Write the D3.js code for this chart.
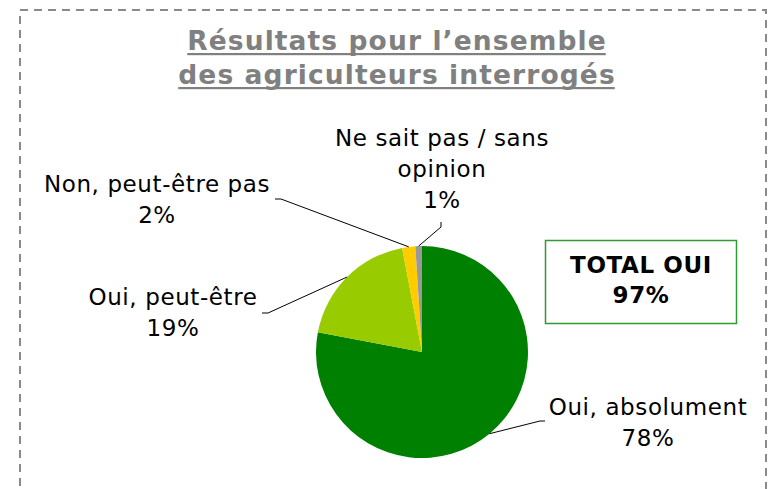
<!DOCTYPE html>
<html>
<head>
<meta charset="utf-8">
<script src="https://cdn.jsdelivr.net/npm/d3@7"></script>
<style>
  html, body { margin: 0; padding: 0; background: #fff; }
  svg { display: block; }
</style>
</head>
<body>
<svg id="chart" width="768" height="489"></svg>
<script>
// ---- Data ----
const titleLines = ["Résultats pour l\u2019ensemble", "des agriculteurs interrogés"];
const categories = ["Oui, absolument", "Oui, peut-être", "Non, peut-être pas", "Ne sait pas / sans\nopinion"];
const values = [78, 19, 2, 1];
const colors = ["#008000", "#99CC00", "#FFCC00", "#999999"];
const totalLabel = ["TOTAL OUI", "97%"];

// ---- Layout ----
const svg = d3.select("#chart");
const cx = 422, cy = 352, R = 106;

// Dashed frame
svg.append("rect")
  .attr("x", 20).attr("y", 10).attr("width", 746).attr("height", 500)
  .attr("fill", "none").attr("stroke", "#8a8a8a").attr("stroke-width", 2)
  .attr("stroke-dasharray", "8,6");

// Title
const font = "'DejaVu Sans', Verdana, sans-serif";
const titleBase = [50, 84];
titleLines.forEach((t, i) => {
  const txt = svg.append("text")
    .attr("x", 397).attr("y", titleBase[i])
    .attr("text-anchor", "middle")
    .attr("font-family", font)
    .attr("font-weight", "bold")
    .attr("font-size", 26.5)
    .attr("letter-spacing", 1.1)
    .attr("fill", "#808080")
    .text(t);
  const bb = txt.node().getBBox();
  svg.append("rect")
    .attr("x", bb.x).attr("y", titleBase[i] + 3)
    .attr("width", bb.width - 1).attr("height", 2.2)
    .attr("fill", "#808080");
});

// Pie
const pie = d3.pie().sort(null).value(d => d)(values);
const arc = d3.arc().innerRadius(0).outerRadius(R);
const g = svg.append("g").attr("transform", `translate(${cx},${cy})`);
g.selectAll("path").data(pie).join("path")
  .attr("d", arc)
  .attr("fill", (d, i) => colors[i]);

// Labels with leader lines (elbow & end points per slice)
const labelLayout = [
  { elbow: [540, 421], end: [545, 421], tx: 648, ty: 415 },
  { elbow: [268, 313], end: [262, 313], tx: 173, ty: 305 },
  { elbow: [281, 199], end: [275, 199], tx: 157, ty: 192 },
  { elbow: [441, 227], end: [441, 222], tx: 442, ty: 146 }
];
const lineH = 31;
pie.forEach((d, i) => {
  const a = (d.startAngle + d.endAngle) / 2;
  const p0 = [cx + R * Math.sin(a), cy - R * Math.cos(a)];
  const L = labelLayout[i];
  svg.append("polyline")
    .attr("points", [p0, L.elbow, L.end].map(p => p.join(",")).join(" "))
    .attr("fill", "none").attr("stroke", "#000").attr("stroke-width", 1);
  const lines = categories[i].split("\n").concat([values[i] + "%"]);
  const t = svg.append("text")
    .attr("text-anchor", "middle")
    .attr("font-family", font)
    .attr("font-size", 23)
    .attr("letter-spacing", 0.6)
    .attr("fill", "#000");
  lines.forEach((ln, k) => {
    t.append("tspan").attr("x", L.tx).attr("y", L.ty + k * lineH).text(ln);
  });
});

// TOTAL OUI box
svg.append("rect")
  .attr("x", 545.5).attr("y", 240.5).attr("width", 191).attr("height", 83)
  .attr("fill", "#fff").attr("stroke", "#339933").attr("stroke-width", 1.5);
const tt = svg.append("text")
  .attr("text-anchor", "middle")
  .attr("font-family", font)
  .attr("font-weight", "bold")
  .attr("font-size", 23)
  .attr("letter-spacing", 0.6)
  .attr("fill", "#000");
totalLabel.forEach((ln, k) => {
  tt.append("tspan").attr("x", 641).attr("y", 273 + k * 30).text(ln);
});
</script>
</body>
</html>
